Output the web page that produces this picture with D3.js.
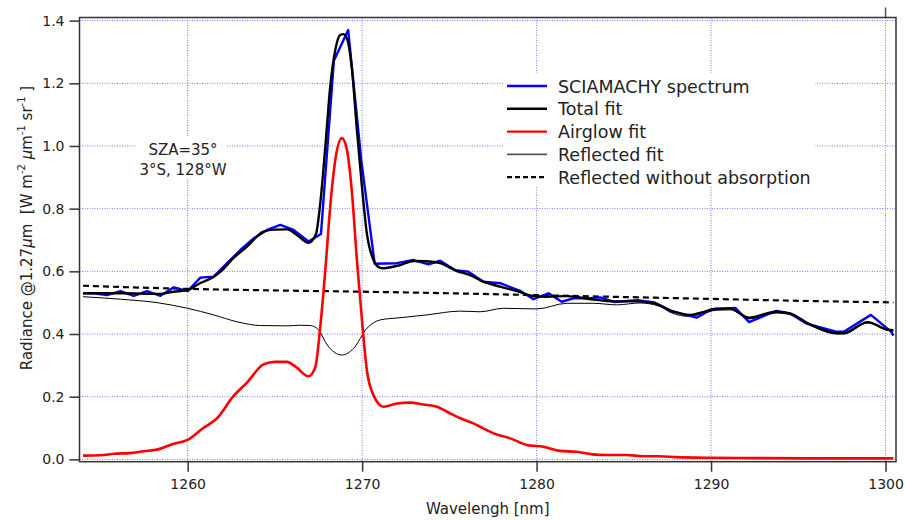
<!DOCTYPE html>
<html><head><meta charset="utf-8">
<script src="https://cdn.jsdelivr.net/npm/d3@7"></script>
<style>
html,body{margin:0;padding:0;background:#fff;}
svg{display:block;}
text{font-family:"DejaVu Sans",sans-serif;fill:#222;white-space:pre;}
</style></head>
<body><svg id="c" width="905" height="520"></svg>
<script>
// ---- data ----
const xTicks = [1260, 1270, 1280, 1290, 1300];
const yTicks = [0.0, 0.2, 0.4, 0.6, 0.8, 1.0, 1.2, 1.4];
const legendLabels = ["SCIAMACHY spectrum", "Total fit", "Airglow fit", "Reflected fit", "Reflected without absorption"];
const annotation = ["SZA=35°", "3°S, 128°W"];

// SCIAMACHY measured spectrum [wavelength nm, radiance]
const spectrum = [
 [1254.0,0.530],[1254.62,0.530],[1255.38,0.524],[1256.15,0.537],[1256.91,0.522],[1257.67,0.537],
 [1258.44,0.522],[1259.20,0.549],[1260.00,0.537],[1260.73,0.580],[1261.49,0.583],[1262.26,0.626],
 [1263.02,0.668],[1263.78,0.705],[1264.55,0.732],[1265.31,0.748],[1266.07,0.732],[1266.93,0.695],
 [1267.64,0.719],[1268.38,1.272],[1269.20,1.370],[1269.96,0.950],[1270.72,0.624],[1271.99,0.626],
 [1272.95,0.636],[1273.81,0.622],[1274.47,0.634],[1275.33,0.604],[1276.09,0.599],[1276.95,0.567],
 [1277.91,0.562],[1279.06,0.538],[1279.82,0.511],[1280.68,0.530],[1281.44,0.503],[1282.11,0.514],
 [1283.06,0.514],[1283.64,0.517],[1284.50,0.502],[1285.77,0.508],[1286.74,0.501],[1287.71,0.474],
 [1289.17,0.452],[1290.04,0.479],[1291.40,0.483],[1292.18,0.438],[1293.73,0.474],[1294.51,0.466],
 [1295.48,0.433],[1297.22,0.407],[1297.61,0.407],[1299.16,0.461],[1300.33,0.407],[1300.45,0.395]
];
// Total fit
const totalFit = [
 [1254.0,0.530],[1255.0,0.530],[1256.2,0.530],[1257.3,0.529],[1258.4,0.528],[1259.2,0.535],
 [1260.0,0.540],[1260.7,0.562],[1261.5,0.583],[1262.0,0.605],[1262.6,0.641],[1263.4,0.679],
 [1264.35,0.727],[1265.0,0.733],[1265.7,0.734],[1266.26,0.716],[1266.93,0.691],[1267.35,0.718],
 [1267.6,0.817],[1267.89,0.998],[1268.17,1.189],[1268.46,1.306],[1268.74,1.354],[1268.93,1.357],
 [1269.16,1.338],[1269.42,1.243],[1269.70,1.051],[1269.99,0.870],[1270.27,0.721],[1270.65,0.636],
 [1271.0,0.612],[1271.23,0.610],[1272.18,0.620],[1272.95,0.633],[1273.7,0.632],[1274.47,0.626],
 [1275.43,0.601],[1276.19,0.588],[1276.95,0.567],[1277.91,0.551],[1278.87,0.537],[1279.82,0.521],
 [1280.58,0.519],[1281.73,0.521],[1283.25,0.510],[1284.40,0.504],[1285.74,0.504],[1286.69,0.499],
 [1287.71,0.474],[1288.78,0.461],[1289.46,0.469],[1290.33,0.481],[1291.11,0.481],[1292.18,0.452],
 [1293.73,0.471],[1294.51,0.466],[1295.67,0.431],[1297.22,0.403],[1297.61,0.403],[1298.97,0.438],
 [1300.13,0.414],[1300.45,0.412]
];
// Airglow fit
const airglowFit = [
 [1254.0,0.012],[1255.0,0.013],[1255.8,0.018],[1256.7,0.020],[1257.5,0.026],[1258.25,0.031],
 [1259.2,0.050],[1260.0,0.062],[1260.9,0.100],[1261.7,0.132],[1262.6,0.200],[1263.4,0.245],
 [1264.35,0.303],[1265.0,0.311],[1265.69,0.311],[1266.2,0.295],[1266.93,0.265],[1267.31,0.293],
 [1267.6,0.423],[1267.89,0.604],[1268.17,0.806],[1268.46,0.955],[1268.84,1.025],[1269.13,0.987],
 [1269.42,0.849],[1269.70,0.636],[1269.99,0.445],[1270.27,0.285],[1270.65,0.205],[1271.23,0.168],
 [1272.0,0.178],[1272.76,0.181],[1273.5,0.175],[1274.28,0.168],[1275.0,0.148],[1275.62,0.131],
 [1276.38,0.115],[1277.0,0.097],[1277.53,0.083],[1278.48,0.067],[1279.44,0.046],[1280.39,0.040],
 [1281.35,0.027],[1282.30,0.024],[1283.2,0.016],[1284.0,0.014],[1285.17,0.014],[1286.12,0.010],
 [1287.0,0.010],[1288.0,0.007],[1290.0,0.005],[1293.0,0.004],[1296.0,0.003],[1300.45,0.003]
];
// Reflected fit
const reflectedFit = [
 [1254.0,0.519],[1256.15,0.511],[1258.25,0.500],[1260.0,0.482],[1261.49,0.461],[1262.83,0.439],
 [1264.16,0.427],[1265.69,0.426],[1266.45,0.428],[1267.03,0.427],[1267.5,0.413],[1268.0,0.365],
 [1268.84,0.333],[1269.51,0.354],[1270.27,0.418],[1271.04,0.445],[1272.18,0.452],[1273.71,0.461],
 [1275.62,0.473],[1276.76,0.471],[1278.10,0.482],[1280.01,0.480],[1281.73,0.498],[1283.25,0.498],
 [1284.59,0.493],[1285.93,0.499],[1287.07,0.488],[1287.71,0.468],[1288.78,0.456],[1289.46,0.464],
 [1290.33,0.476],[1291.11,0.477],[1292.18,0.448],[1293.73,0.467],[1294.51,0.462],[1295.67,0.428],
 [1297.22,0.400],[1297.61,0.400],[1298.97,0.435],[1300.13,0.411],[1300.45,0.409]
];
// Reflected without absorption
const reflectedNoAbs = [
 [1254.0,0.554],[1260.0,0.544],[1265.0,0.539],[1270.0,0.535],[1275.0,0.530],[1280.0,0.524],
 [1285.0,0.518],[1290.0,0.512],[1295.0,0.506],[1300.45,0.501]
];

// ---- chart ----
const svg = d3.select("#c");
const L = 79.5, R = 896, T = 17.5, B = 461.7;
const x = d3.scaleLinear().domain([1253.8, 1300.6]).range([L, R]);
const y = d3.scaleLinear().domain([-0.0075, 1.410]).range([B, T]);

const gridColor = "#5a5aff";
// grid
svg.append("g").selectAll("line").data(yTicks).join("line")
  .attr("x1", L).attr("x2", R).attr("y1", d => y(d)).attr("y2", d => y(d))
  .attr("stroke", gridColor).attr("stroke-width", 1).attr("stroke-dasharray", "1,1.5").attr("opacity", 0.8);
svg.append("g").selectAll("line").data(xTicks).join("line")
  .attr("y1", T).attr("y2", B).attr("x1", d => x(d)).attr("x2", d => x(d))
  .attr("stroke", gridColor).attr("stroke-width", 1).attr("stroke-dasharray", "1,1.5").attr("opacity", 0.8);

// white backgrounds for annotation and legend
svg.append("rect").attr("x", 137).attr("y", 137).attr("width", 90).attr("height", 43).attr("fill", "#fff");
svg.append("rect").attr("x", 503).attr("y", 73).attr("width", 312).attr("height", 114).attr("fill", "#fff");

const clip = svg.append("clipPath").attr("id", "pc").append("rect")
  .attr("x", L).attr("y", T).attr("width", R - L).attr("height", B - T);
const plot = svg.append("g").attr("clip-path", "url(#pc)");

const smooth = d3.line().x(d => x(d[0])).y(d => y(d[1])).curve(d3.curveMonotoneX);
const straight = d3.line().x(d => x(d[0])).y(d => y(d[1]));

plot.append("path").attr("d", smooth(reflectedNoAbs)).attr("fill", "none")
  .attr("stroke", "#000").attr("stroke-width", 2.2).attr("stroke-dasharray", "6,4");
plot.append("path").attr("d", smooth(reflectedFit)).attr("fill", "none")
  .attr("stroke", "#000").attr("stroke-width", 1);
plot.append("path").attr("d", straight(spectrum)).attr("fill", "none")
  .attr("stroke", "#0000ff").attr("stroke-width", 2.4).attr("stroke-linejoin", "round");
plot.append("path").attr("d", smooth(totalFit)).attr("fill", "none")
  .attr("stroke", "#000").attr("stroke-width", 2.4);
plot.append("path").attr("d", smooth(airglowFit)).attr("fill", "none")
  .attr("stroke", "#ff0000").attr("stroke-width", 2.6);

// axes
const xAxis = d3.axisBottom(x).tickValues(xTicks).tickSize(10).tickPadding(7).tickFormat(d3.format("d"));
const gx = svg.append("g").attr("transform", `translate(0,${B})`).call(xAxis);
gx.select(".domain").remove();
gx.selectAll("line").attr("stroke", "#333").attr("stroke-width", 1.5);
gx.selectAll("text").attr("font-size", 14).attr("font-family", "DejaVu Sans").attr("fill", "#222");

const yAxis = d3.axisLeft(y).tickValues(yTicks).tickSize(10).tickPadding(5).tickFormat(d3.format(".1f"));
const gy = svg.append("g").attr("transform", `translate(${L},0)`).call(yAxis);
gy.select(".domain").remove();
gy.selectAll("line").attr("stroke", "#333").attr("stroke-width", 1.5);
gy.selectAll("text").attr("font-size", 14).attr("font-family", "DejaVu Sans").attr("fill", "#222");

// top tick at last x tick
svg.append("line").attr("x1", x(xTicks[xTicks.length - 1])).attr("x2", x(xTicks[xTicks.length - 1]))
  .attr("y1", T - 10).attr("y2", T).attr("stroke", "#555").attr("stroke-width", 1.5);

// frame
svg.append("rect").attr("x", L).attr("y", T).attr("width", R - L).attr("height", B - T)
  .attr("fill", "none").attr("stroke", "#333").attr("stroke-width", 1.5);

// axis titles
svg.append("text").attr("x", (L + R) / 2 - 0).attr("y", 514).attr("text-anchor", "middle")
  .attr("font-size", 15).text("Wavelengh [nm]");

const yt = svg.append("text").attr("transform", "translate(32,228) rotate(-90)")
  .attr("text-anchor", "middle").attr("font-size", 15);
yt.append("tspan").text("Radiance @1.27");
yt.append("tspan").attr("font-style", "italic").text("μ");
yt.append("tspan").text("m  [W m");
yt.append("tspan").attr("font-size", 10).attr("dy", -7).text("-2");
yt.append("tspan").attr("dy", 7).text(" ");
yt.append("tspan").attr("font-style", "italic").text("μ");
yt.append("tspan").text("m");
yt.append("tspan").attr("font-size", 10).attr("dy", -7).text("-1");
yt.append("tspan").attr("dy", 7).text(" sr");
yt.append("tspan").attr("font-size", 10).attr("dy", -7).text("-1");
yt.append("tspan").attr("dy", 7).text(" ]");

// annotation
svg.append("text").attr("x", 183).attr("y", 155).attr("text-anchor", "middle").attr("font-size", 15).text(annotation[0]);
svg.append("text").attr("x", 183).attr("y", 175).attr("text-anchor", "middle").attr("font-size", 15).text(annotation[1]);

// legend
const legStyles = [
  {c: "#0000ff", w: 2.4, dash: null},
  {c: "#000", w: 2.4, dash: null},
  {c: "#ff0000", w: 2.4, dash: null},
  {c: "#555", w: 1.6, dash: null},
  {c: "#000", w: 2.2, dash: "5,3"}
];
const lg = svg.append("g");
legendLabels.forEach((lab, i) => {
  const yy = 86 + i * 22.8;
  const s = legStyles[i];
  const ln = lg.append("line").attr("x1", 507).attr("x2", 547).attr("y1", yy).attr("y2", yy)
    .attr("stroke", s.c).attr("stroke-width", s.w);
  if (s.dash) ln.attr("stroke-dasharray", s.dash);
  lg.append("text").attr("x", 558).attr("y", yy + 6.5).attr("font-size", 17.5).attr("fill", "#111").text(lab);
});
</script></body></html>
